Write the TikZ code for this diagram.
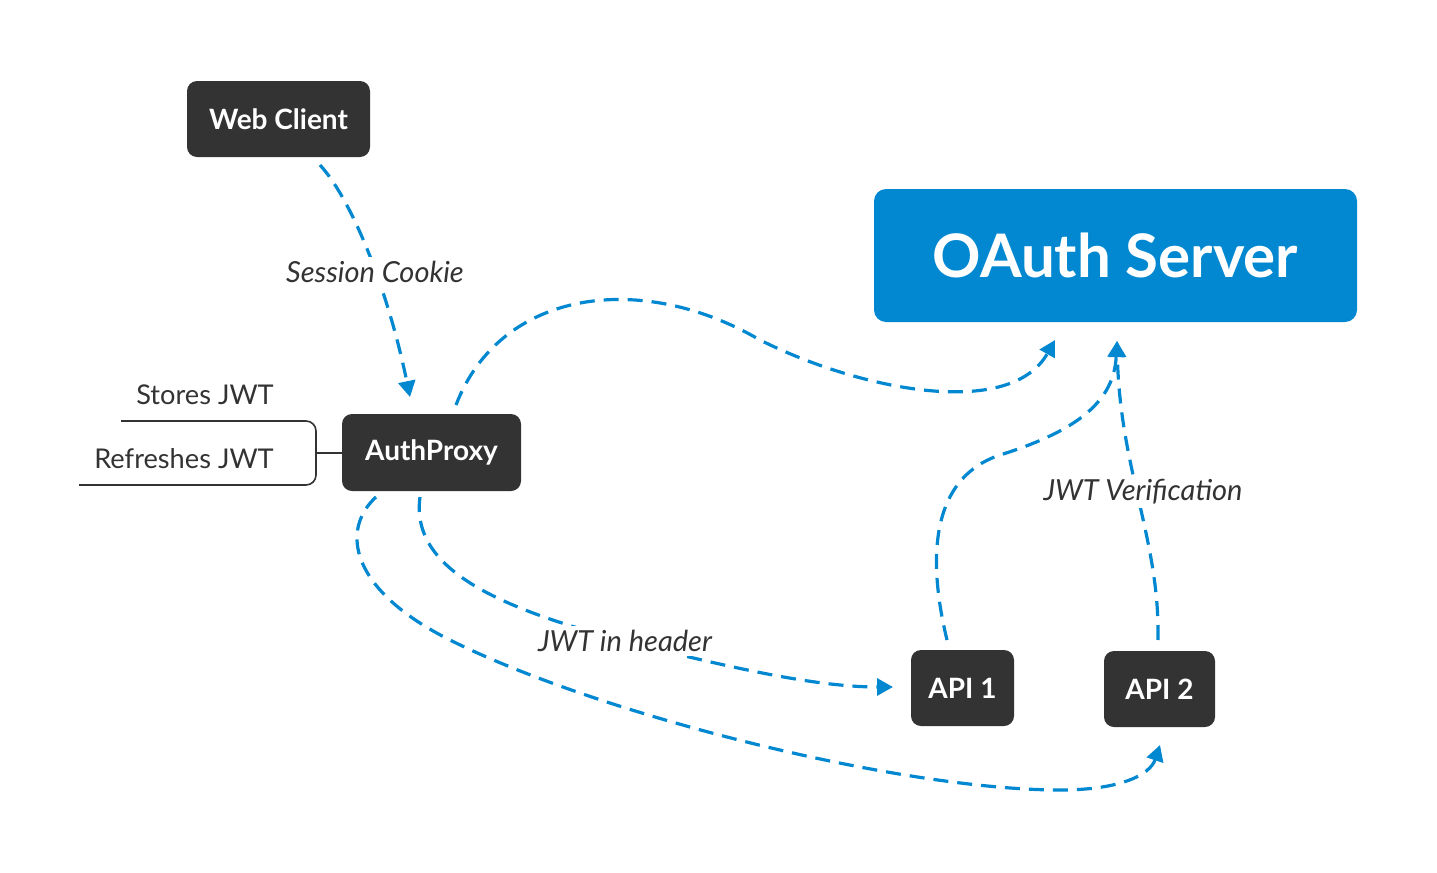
\documentclass[tikz,border=0pt]{standalone}
\usepackage{fontspec}
\setmainfont{Lato}
\usetikzlibrary{arrows.meta}
\definecolor{darkbox}{HTML}{333333}
\definecolor{oblue}{HTML}{0288D1}
\tikzset{
  boxtext/.style={text=white, font=\bfseries\fontsize{14}{16}\selectfont},
  flow/.style={draw=oblue, line width=1.6pt, dash pattern=on 7.5pt off 4.5pt, -{Triangle[length=8pt,width=8.5pt]}},
  lbl/.style={fill=white, inner sep=2pt, text=darkbox, font=\itshape\fontsize{14.5}{16}\selectfont},
  plain/.style={text=darkbox, font=\fontsize{13.6}{15}\selectfont},
  brk/.style={draw=darkbox, line width=0.8pt}
}
\begin{document}
\begin{tikzpicture}[x=0.5pt,y=-0.5pt]
\useasboundingbox (0,0) rectangle (1437,873);
% boxes
\fill[darkbox, rounded corners=5pt] (187,81) rectangle (370,157);
\node[boxtext] (web) at (278.5,119) {Web Client};
\fill[oblue, rounded corners=6pt] (874,189) rectangle (1357,322);
\node[text=white, font=\bfseries\fontsize{30}{36}\selectfont] (oauth) at (1115.5,255.5) {OAuth Server};
\fill[darkbox, rounded corners=5pt] (342,414) rectangle (521,491);
\node[boxtext] (proxy) at (431.5,452.5) {AuthProxy};
\fill[darkbox, rounded corners=5pt] (911,650) rectangle (1014,726);
\node[boxtext] (api1) at (962.5,688) {API 1};
\fill[darkbox, rounded corners=5pt] (1104,651) rectangle (1215,727);
\node[boxtext] (api2) at (1159.5,689) {API 2};
% bracket
\node[plain] (stores) at (205,395) {Stores JWT};
\node[plain] (refresh) at (184,459) {Refreshes JWT};
\coordinate (bt) at (121,421);
\coordinate (bb) at (79,485);
\coordinate (bm) at (316,453);
\draw[brk, rounded corners=5pt] (bt) -- (316,421) -- (316,485) -- (bb);
\draw[brk] (bm) -- (342,453);
% coordinates
\coordinate (w0) at (320,165);
\coordinate (p1) at (410,397);
\coordinate (p0) at (456,405);
\coordinate (o1) at (1055,340);
\coordinate (o2) at (1117,341);
\coordinate (a1s) at (947,640);
\coordinate (a2s) at (1158,640);
\coordinate (pa) at (420,497);
\coordinate (pb) at (376,497);
\coordinate (a1e) at (893,687);
\coordinate (a2e) at (1160,745);
% connectors
\draw[flow] (w0) .. controls (352,200) and (388,290) .. (p1);
\draw[flow] (p0) .. controls (500,290) and (640,270) .. (760,340) .. controls (860,390) and (1010,420) .. (o1);
\draw[flow] (pa) .. controls (410,570) and (500,610) .. (640,645) .. controls (740,670) and (820,687) .. (a1e);
\draw[flow] (pb) .. controls (340,530) and (350,590) .. (450,640) .. controls (600,715) and (900,790) .. (1060,790) .. controls (1120,790) and (1150,775) .. (a2e);
\draw[flow] (a1s) .. controls (930,570) and (925,480) .. (1000,455) .. controls (1080,430) and (1114,400) .. (o2);
\draw[flow] (a2s) .. controls (1160,540) and (1120,470) .. (o2);
% labels
\node[lbl] (lsc) at (375,272) {Session Cookie};
\node[lbl] (lhd) at (625,641) {JWT in header};
\node[lbl] (lvr) at (1143,492) {JWT Verification};
\end{tikzpicture}
\end{document}
